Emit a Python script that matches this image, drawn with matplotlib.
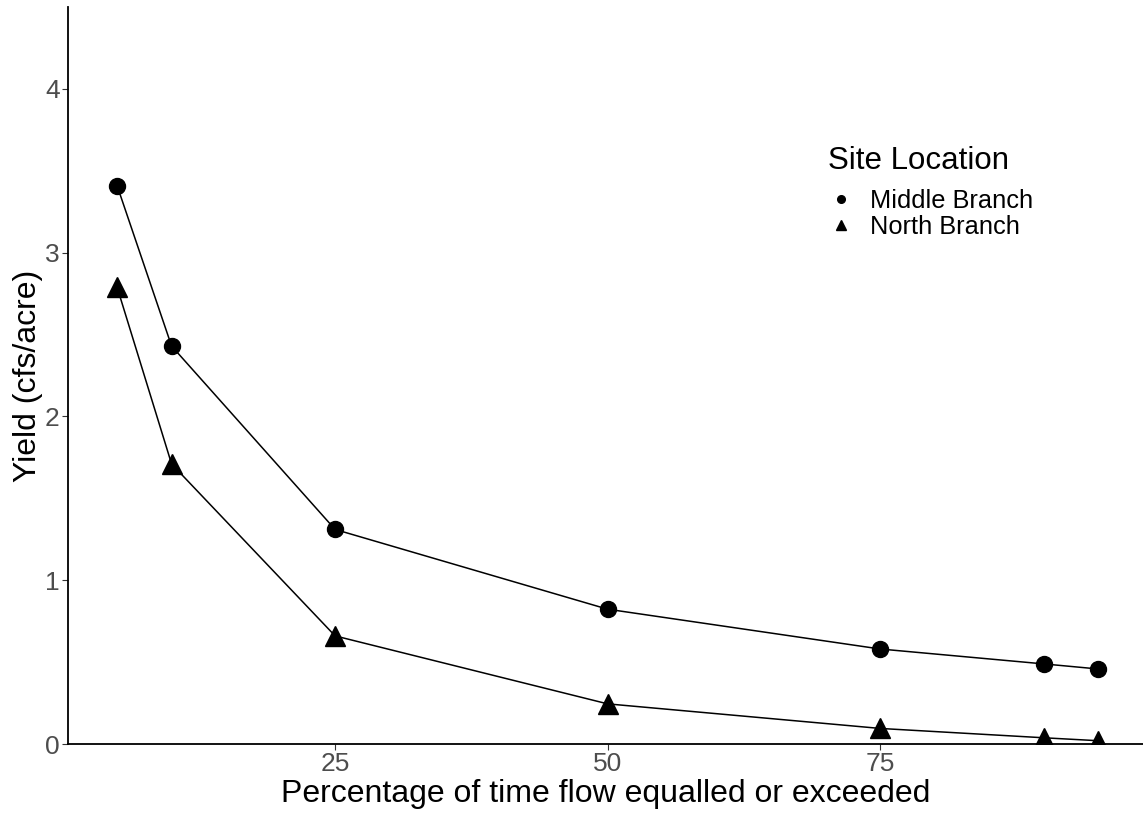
import matplotlib
matplotlib.use("Agg")
import matplotlib.pyplot as plt
from matplotlib.lines import Line2D

plt.rcParams['font.family'] = ['Liberation Sans', 'DejaVu Sans']

# flow-duration yield, cfs per acre
pct = [5, 10, 25, 50, 75, 90, 95]
middle = [3.41, 2.43, 1.31, 0.823, 0.580, 0.489, 0.458]
north = [2.79, 1.71, 0.66, 0.245, 0.095, 0.038, 0.020]
series = ["Middle Branch", "North Branch"]
xticks = [25, 50, 75]
yticks = [0, 1, 2, 3, 4]

W, H = 1143, 817
fig = plt.figure(figsize=(W / 100, H / 100), dpi=100)
ax = fig.add_axes([68 / W, (H - 744) / H, (W - 68) / W, (744 - 7) / H])

ax.plot(pct, middle, color="black", lw=1.1, marker="o", ms=11.5, zorder=3)
ax.plot(pct, north, color="black", lw=1.1, marker="^", ms=15, zorder=3)

ax.set_xlim(0.5, 99.1)
ax.set_ylim(0, 4.5)
ax.set_xticks(xticks)
ax.set_yticks(yticks)
ax.tick_params(labelsize=19, labelcolor="#4D4D4D", length=4, width=0.8,
               color="#333333", pad=2)

for side in ["top", "right"]:
    ax.spines[side].set_visible(False)
for side in ["left", "bottom"]:
    ax.spines[side].set_linewidth(1.3)

ax.set_xlabel("Percentage of time flow equalled or exceeded", fontsize=23, labelpad=2)
ax.set_ylabel("Yield (cfs/acre)", fontsize=23)
ax.yaxis.set_label_coords((43 - 68) / (W - 68), 0.5)

handles = [
    Line2D([], [], color="black", marker="o", ls="none", ms=5.5),
    Line2D([], [], color="black", marker="^", ls="none", ms=6.5),
]
leg = fig.legend(handles, series, title="Site Location", frameon=False,
                 fontsize=18.3, title_fontsize=22.5, loc="upper left",
                 bbox_to_anchor=(828 / W, (H - 146) / H),
                 handletextpad=0.67, handlelength=1.0, labelspacing=0.1,
                 borderaxespad=0, borderpad=0)
leg._legend_box.align = "left"
leg._legend_box.sep = 9

fig.savefig("out.png", dpi=100)
